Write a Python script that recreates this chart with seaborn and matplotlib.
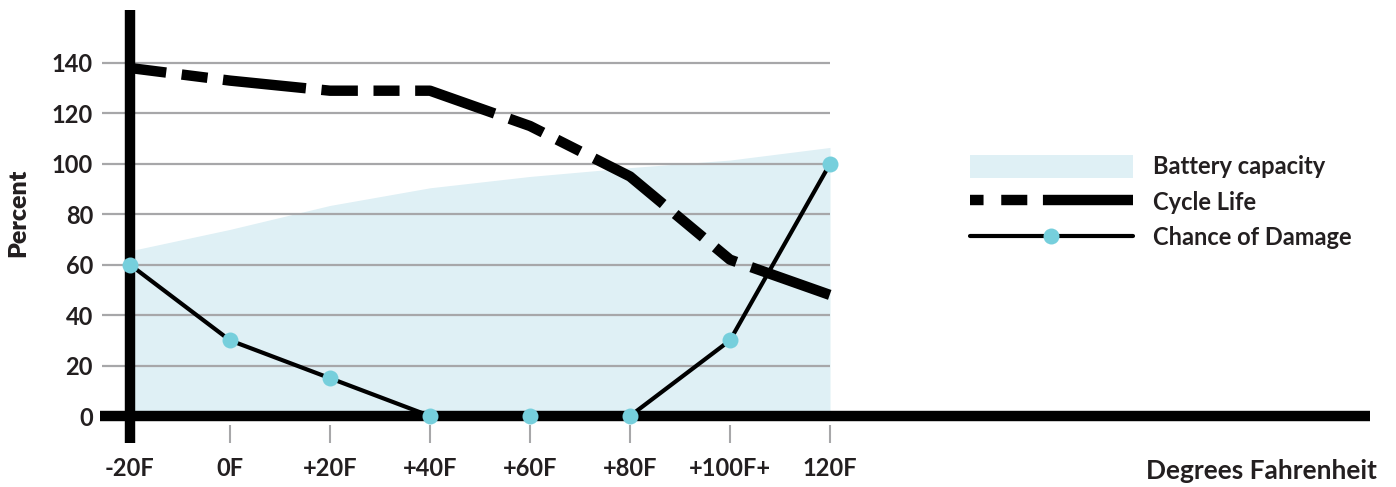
import matplotlib
matplotlib.use("Agg")
import matplotlib.pyplot as plt
import seaborn as sns
import pandas as pd
from matplotlib.patches import Patch
from matplotlib.lines import Line2D

# Temperatures (degrees F) and their tick labels
temps = [-20, 0, 20, 40, 60, 80, 100, 120]
temp_labels = ["-20F", "0F", "+20F", "+40F", "+60F", "+80F", "+100F+", "120F"]

# Series values (percent)
battery_capacity = [65.5, 74, 83.5, 90.5, 95, 98.5, 101.5, 106.5]
cycle_life = [138, 133, 129, 129, 115, 95, 62, 48]
chance_of_damage = [60, 30, 15, 0, 0, 0, 30, 100]

y_ticks = [0, 20, 40, 60, 80, 100, 120, 140]

sns.set_theme(style="white")
plt.rcParams["font.family"] = ["Lato", "DejaVu Sans"]

TEXT = "#231f20"
FILL = "#dff0f5"
DOT = "#76cfdc"
GRID = "#a7a7a9"

df = pd.DataFrame({
    "temp": temps,
    "capacity": battery_capacity,
    "cycle": cycle_life,
    "damage": chance_of_damage,
})

fig = plt.figure(figsize=(13.96, 4.87), dpi=100)
W, H = 1396, 487
ax = fig.add_axes([100 / W, (H - 443) / H, (1370 - 100) / W, (443 - 10) / H])
ax.set_xlim(-26, 228)
ax.set_ylim(-10.7, 161)
for s in ax.spines.values():
    s.set_visible(False)

# Horizontal gridlines
ax.hlines(y_ticks[1:], -25.6, 120, color=GRID, lw=1.6, zorder=1)

# Battery capacity area
ax.fill_between(df["temp"], 0, df["capacity"], color=FILL, lw=0, zorder=0)

# Thick axis lines
ax.axhline(0, color="black", lw=7.5, zorder=3, solid_capstyle="butt")
ax.axvline(-20, color="black", lw=7.5, zorder=3, solid_capstyle="butt")

# Cycle life (dashed)
dash = (3.5, 1.5, 2.5, 1.5, 8, 1.5)
sns.lineplot(data=df, x="temp", y="cycle", ax=ax, color="black", lw=7.5,
             zorder=4)
ax.lines[-1].set_dashes(dash)
ax.lines[-1].set_dash_capstyle("butt")

# Chance of damage with markers
sns.lineplot(data=df, x="temp", y="damage", ax=ax, color="black", lw=3,
             marker="o", markersize=11.5, markerfacecolor=DOT,
             markeredgewidth=0, zorder=5)

ax.set_xticks(temps)
ax.set_xticklabels(temp_labels)
ax.set_yticks(y_ticks)
ax.tick_params(axis="x", direction="in", length=13, width=1.5, color=GRID,
               pad=10, labelsize=17, labelcolor=TEXT, bottom=True)
ax.tick_params(axis="y", length=0, pad=5, labelsize=17, labelcolor=TEXT)
for lab in ax.get_xticklabels() + ax.get_yticklabels():
    lab.set_fontweight("bold")

ax.set_xlabel("")
ax.set_ylabel("Percent", fontsize=18, fontweight="heavy", color=TEXT)
ax.yaxis.set_label_coords((18 - 100) / 1270, (443 - 213) / 433)
ax.yaxis.label.set_va("center")

fig.text(1377 / W, 1 - 471 / H, "Degrees Fahrenheit", ha="right", va="center",
         fontsize=19, fontweight="bold", color=TEXT)

handles = [
    Patch(facecolor=FILL, edgecolor="none"),
    Line2D([], [], color="black", lw=7.5, dashes=(1.3, 1.7, 2.5, 1.5, 9.2, 1.5),
           dash_capstyle="butt"),
    Line2D([], [], color="black", lw=3, marker="o", markersize=11.5,
           markerfacecolor=DOT, markeredgewidth=0),
]
leg = ax.legend(handles, ["Battery capacity", "Cycle Life", "Chance of Damage"],
                loc="center left", bbox_to_anchor=(970 / W, 1 - 202 / H),
                bbox_transform=fig.transFigure, frameon=False,
                borderpad=0, borderaxespad=0,
                fontsize=17, handlelength=6.9, handleheight=1.15,
                handletextpad=0.85, labelspacing=0.5, markerscale=1.0)
for t in leg.get_texts():
    t.set_fontweight("bold")
    t.set_color(TEXT)

fig.savefig("out.png", dpi=100)
